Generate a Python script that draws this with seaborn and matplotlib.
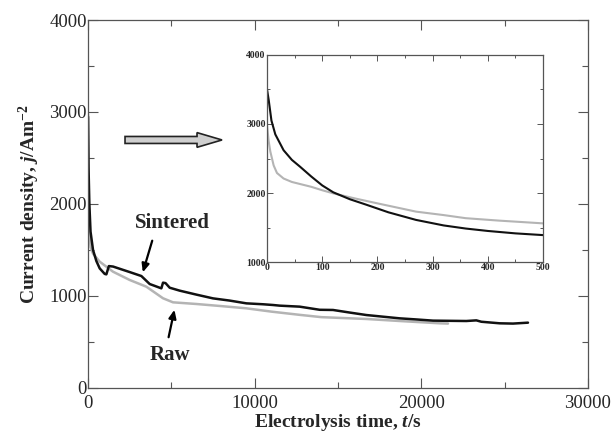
import numpy as np
import pandas as pd
import matplotlib
matplotlib.use("Agg")
import matplotlib.pyplot as plt
import seaborn as sns
from matplotlib.patches import FancyArrow
from matplotlib.ticker import MultipleLocator

# --- main curves (t in s, j in A/m^2) ---
sint_t = [0, 30, 80, 150, 300, 500, 700, 1000, 1100, 1250, 1500, 2000, 2500, 3200,
          3700, 4000, 4400, 4500, 4650, 4900, 5500, 6500, 7500, 8500, 9500, 10500,
          11100, 11500, 12700, 13900, 14700, 15700, 16700, 17700, 18700, 19700,
          20700, 21700, 22700, 23300, 23600, 24700, 25500, 26400]
sint_j = [2950, 2400, 2000, 1700, 1500, 1380, 1300, 1240, 1235, 1325, 1320, 1290,
          1260, 1217, 1130, 1110, 1083, 1145, 1140, 1090, 1058, 1015, 974, 950, 920,
          910, 902, 895, 884, 850, 848, 820, 793, 775, 757, 745, 732, 730, 728, 735,
          720, 703, 700, 710]

raw_t = [0, 30, 80, 150, 300, 700, 1500, 2500, 3500, 4500, 5100, 6500, 8000, 9500,
         11000, 12700, 14000, 16700, 18700, 21100, 21600]
raw_j = [2980, 2000, 1700, 1530, 1460, 1373, 1264, 1174, 1101, 975, 931, 913, 890,
         866, 830, 795, 770, 750, 728, 703, 700]

# --- inset: first 500 s ---
in_sint_t = [0, 3, 8, 15, 30, 45, 60, 80, 100, 120, 150, 180, 220, 270, 320, 360, 400, 450, 500]
in_sint_j = [3500, 3350, 3050, 2850, 2620, 2480, 2380, 2240, 2110, 2010, 1910, 1830,
             1720, 1610, 1530, 1485, 1450, 1415, 1390]
in_raw_t = [0, 3, 6, 12, 18, 30, 45, 60, 80, 100, 120, 160, 200, 270, 320, 360, 420, 500]
in_raw_j = [2980, 2750, 2600, 2400, 2290, 2210, 2160, 2130, 2090, 2040, 1995, 1920,
            1850, 1730, 1680, 1635, 1600, 1560]

sns.set_style("ticks")
plt.rcParams['font.family'] = ['Liberation Serif', 'DejaVu Serif']
plt.rcParams['mathtext.fontset'] = 'custom'
plt.rcParams['mathtext.rm'] = 'Liberation Serif:bold'
plt.rcParams['mathtext.bf'] = 'Liberation Serif:bold'
plt.rcParams['mathtext.it'] = 'Liberation Serif:italic:bold'

BLACK = '#111111'
GRAY = '#b4b4b4'
SPINE = '#555555'

fig = plt.figure(figsize=(6.13, 4.32), dpi=100)
ax = fig.add_axes([0.1436, 0.1019, 0.8156, 0.8518])

main = pd.concat([
    pd.DataFrame({'t': raw_t, 'j': raw_j, 'sample': 'Raw'}),
    pd.DataFrame({'t': sint_t, 'j': sint_j, 'sample': 'Sintered'}),
])
sns.lineplot(data=main, x='t', y='j', hue='sample', palette={'Raw': GRAY, 'Sintered': BLACK},
             linewidth=1.8, legend=False, sort=False, ax=ax)

ax.set_xlim(0, 30000)
ax.set_ylim(0, 4000)
ax.xaxis.set_major_locator(MultipleLocator(10000))
ax.xaxis.set_minor_locator(MultipleLocator(5000))
ax.yaxis.set_major_locator(MultipleLocator(1000))
ax.yaxis.set_minor_locator(MultipleLocator(500))
ax.tick_params(which='both', direction='in', top=True, right=True, color=SPINE, width=0.8)
ax.tick_params(which='major', length=7, labelsize=13.5)
ax.tick_params(axis='x', which='major', pad=5)
ax.tick_params(axis='y', which='major', pad=1)
ax.tick_params(which='minor', length=4)
for s in ax.spines.values():
    s.set_color(SPINE)
    s.set_linewidth(0.9)

ax.set_xlabel('Electrolysis time, $\\it{t}$/s', fontsize=14, fontweight='bold', labelpad=0)
ax.set_ylabel('Current density, $\\it{j}$/Am$^{-2}$', fontsize=14, fontweight='bold', labelpad=5)

# labels with arrows
ax.text(5040, 1793, 'Sintered', fontsize=15, fontweight='bold', ha='center', va='center')
ax.annotate('', xy=(3240, 1228), xytext=(3900, 1630),
            arrowprops=dict(arrowstyle='-|>,head_length=0.5,head_width=0.22', lw=1.6, color='black'))
ax.text(4920, 359, 'Raw', fontsize=15, fontweight='bold', ha='center', va='center')
ax.annotate('', xy=(5220, 880), xytext=(4800, 522),
            arrowprops=dict(arrowstyle='-|>,head_length=0.5,head_width=0.22', lw=1.6, color='black'))

# hollow block arrow pointing to inset
ax.add_patch(FancyArrow(0.074, 0.674, 0.194, 0, width=0.019, head_width=0.04,
                        head_length=0.05, length_includes_head=True,
                        facecolor='#cfcfcf', edgecolor='#222222', lw=1.2,
                        transform=ax.transAxes))

# inset
ins = fig.add_axes([0.4356, 0.3935, 0.4502, 0.4792])
inset = pd.concat([
    pd.DataFrame({'t': in_raw_t, 'j': in_raw_j, 'sample': 'Raw'}),
    pd.DataFrame({'t': in_sint_t, 'j': in_sint_j, 'sample': 'Sintered'}),
])
sns.lineplot(data=inset, x='t', y='j', hue='sample', palette={'Raw': GRAY, 'Sintered': BLACK},
             linewidth=1.5, legend=False, sort=False, ax=ins)
ins.set_xlim(0, 500)
ins.set_ylim(1000, 4000)
ins.xaxis.set_major_locator(MultipleLocator(100))
ins.xaxis.set_minor_locator(MultipleLocator(50))
ins.yaxis.set_major_locator(MultipleLocator(1000))
ins.yaxis.set_minor_locator(MultipleLocator(500))
ins.tick_params(which='both', direction='in', top=True, right=True, color=SPINE, width=0.7)
ins.tick_params(which='major', length=4, labelsize=7, pad=1)
ins.tick_params(which='minor', length=2.5)
for lbl in ins.get_xticklabels() + ins.get_yticklabels():
    lbl.set_fontweight('bold')
ins.set_xlabel('')
ins.set_ylabel('')
for s in ins.spines.values():
    s.set_color(SPINE)
    s.set_linewidth(0.9)

fig.savefig('out.png', dpi=100)
